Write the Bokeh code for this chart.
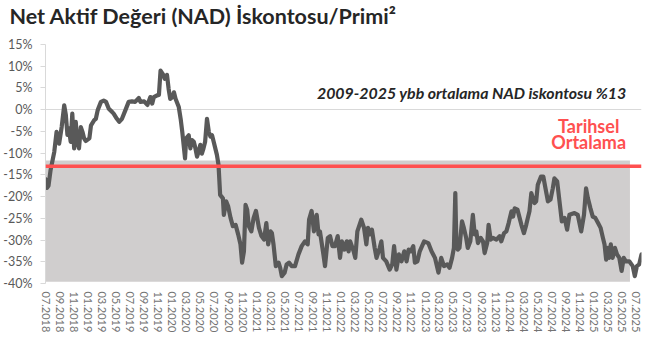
import pandas as pd
from bokeh.plotting import figure
from bokeh.models import Range1d, FixedTicker, Span, Label, ColumnDataSource
from bokeh.embed import file_html
from bokeh.resources import INLINE

# ---------------- data ----------------
dates = [
    "2018-07-01","2018-07-07","2018-07-14","2018-07-23","2018-08-08","2018-08-18","2018-08-29","2018-09-09",
    "2018-09-20","2018-09-27","2018-10-04","2018-10-10","2018-10-18","2018-10-25","2018-11-02","2018-11-09",
    "2018-11-16","2018-11-23","2018-12-01","2018-12-08","2018-12-15","2018-12-22","2019-01-07","2019-01-14",
    "2019-01-28","2019-02-04","2019-02-12","2019-02-26","2019-03-10","2019-03-20","2019-04-01","2019-04-15",
    "2019-04-22","2019-05-06","2019-05-16","2019-05-28","2019-06-12","2019-06-26","2019-07-10","2019-07-24",
    "2019-08-09","2019-08-16","2019-09-01","2019-09-15","2019-09-28","2019-10-06","2019-10-13","2019-10-27",
    "2019-11-04","2019-11-11","2019-11-21","2019-11-29","2019-12-09","2019-12-16","2019-12-23","2020-01-01",
    "2020-01-08","2020-01-15","2020-01-29","2020-02-06","2020-02-13","2020-02-25","2020-03-01","2020-03-12",
    "2020-03-19","2020-03-26","2020-04-03","2020-04-10","2020-04-17","2020-04-24","2020-05-01","2020-05-08",
    "2020-05-15","2020-05-22","2020-05-30","2020-06-07","2020-06-14","2020-06-21","2020-06-28","2020-07-12",
    "2020-07-19","2020-07-26","2020-08-07","2020-08-11","2020-08-21","2020-08-30","2020-09-09","2020-09-19",
    "2020-10-01","2020-10-12","2020-10-22","2020-10-29","2020-11-06","2020-11-13","2020-11-20","2020-11-27",
    "2020-12-08","2020-12-18","2020-12-28","2021-01-10","2021-01-21","2021-02-01","2021-02-11","2021-02-19",
    "2021-03-01","2021-03-07","2021-03-14","2021-03-24","2021-04-05","2021-04-12","2021-04-19","2021-05-01",
    "2021-05-10","2021-05-20","2021-06-01","2021-06-15","2021-06-30","2021-07-14","2021-07-28","2021-08-09",
    "2021-08-15","2021-08-26","2021-09-05","2021-09-10","2021-09-17","2021-09-25","2021-10-01","2021-10-16",
    "2021-10-23","2021-11-04","2021-11-14","2021-11-24","2021-12-05","2021-12-17","2021-12-27","2022-01-04",
    "2022-01-15","2022-01-25","2022-02-02","2022-02-09","2022-02-24","2022-03-03","2022-03-12","2022-03-29",
    "2022-04-10","2022-04-20","2022-04-27","2022-05-04","2022-05-14","2022-05-26","2022-06-03","2022-06-17",
    "2022-06-24","2022-07-01","2022-07-15","2022-07-30","2022-08-10","2022-08-18","2022-08-28","2022-09-08",
    "2022-09-19","2022-10-01","2022-10-11","2022-10-20","2022-10-29","2022-11-09","2022-11-16","2022-11-27",
    "2022-12-07","2022-12-26","2023-01-13","2023-01-27","2023-02-11","2023-02-26","2023-03-10","2023-03-22",
    "2023-04-05","2023-04-15","2023-04-26","2023-05-04","2023-05-10","2023-05-14","2023-05-21","2023-05-28",
    "2023-06-08","2023-06-16","2023-06-26","2023-07-03","2023-07-14","2023-07-25","2023-08-02","2023-08-09",
    "2023-08-16","2023-08-28","2023-09-07","2023-09-14","2023-09-25","2023-10-01","2023-10-10","2023-10-20",
    "2023-11-04","2023-11-18","2023-11-25","2023-12-07","2023-12-17","2023-12-27","2024-01-08","2024-01-15",
    "2024-01-22","2024-02-03","2024-02-09","2024-02-20","2024-03-02","2024-03-12","2024-03-19","2024-03-26",
    "2024-04-03","2024-04-10","2024-04-17","2024-04-24","2024-05-01","2024-05-15","2024-05-25","2024-06-02",
    "2024-06-14","2024-06-25","2024-07-05","2024-07-12","2024-07-24","2024-08-03","2024-08-13","2024-08-25",
    "2024-09-05","2024-09-15","2024-10-07","2024-10-21","2024-11-05","2024-11-17","2024-11-26","2024-12-04",
    "2024-12-15","2024-12-25","2025-01-05","2025-01-17","2025-01-28","2025-02-07","2025-02-14","2025-02-21",
    "2025-02-28","2025-03-06","2025-03-13","2025-03-21","2025-03-31","2025-04-09","2025-04-19","2025-04-29",
    "2025-05-08","2025-05-17","2025-06-01","2025-06-16","2025-06-25","2025-07-04","2025-07-14","2025-07-24",
]
discount = [
    -16.0,-18.0,-17.5,-13.9,-9.7,-5.1,-7.8,-4.0,
    1.0,-1.2,-5.8,-4.3,-7.4,-0.9,-8.9,-2.8,
    -7.4,-8.9,-4.0,-5.1,-6.6,-7.2,-6.6,-3.6,
    -2.4,-2.1,-0.1,1.8,2.1,1.8,0.2,-0.5,
    -0.9,-2.1,-2.8,-2.1,-0.1,1.8,1.9,1.8,
    2.7,1.8,1.9,1.1,2.9,1.4,2.9,3.3,
    3.4,9.0,8.2,7.1,8.0,4.8,2.5,2.9,
    4.0,2.5,0.6,-2.1,-5.1,-11.2,-6.6,-5.9,
    -8.9,-7.0,-7.4,-8.9,-10.8,-9.7,-8.1,-10.1,
    -8.9,-7.4,-2.1,-5.1,-6.2,-5.9,-7.4,-10.4,
    -12.7,-19.6,-20.4,-24.2,-21.1,-22.3,-24.9,-26.8,
    -26.5,-28.7,-31.0,-35.2,-32.6,-21.9,-23.0,-26.8,
    -28.0,-24.9,-23.3,-27.2,-29.1,-29.9,-26.1,-31.0,
    -28.0,-28.4,-31.0,-36.0,-35.2,-36.4,-38.3,-37.5,
    -35.6,-35.2,-36.0,-36.0,-33.3,-31.4,-30.3,-31.0,
    -25.3,-23.3,-28.0,-25.7,-24.2,-28.7,-28.0,-33.3,
    -36.0,-29.5,-29.1,-31.4,-31.4,-29.1,-34.1,-30.3,
    -32.2,-30.3,-32.6,-30.3,-32.6,-34.1,-28.0,-25.3,
    -27.2,-31.0,-27.2,-28.7,-27.6,-31.8,-34.1,-31.8,
    -30.3,-34.1,-34.9,-36.8,-35.6,-31.4,-36.8,-33.3,
    -34.9,-32.6,-34.9,-32.2,-32.6,-31.4,-35.2,-34.9,
    -32.6,-30.3,-30.7,-32.6,-34.1,-37.5,-34.1,-36.0,
    -35.6,-36.4,-34.1,-31.8,-19.2,-29.5,-32.2,-31.8,
    -25.7,-27.2,-29.5,-31.8,-30.3,-24.2,-28.7,-28.0,
    -30.7,-29.5,-30.3,-33.0,-30.7,-26.5,-29.9,-29.5,
    -29.9,-29.1,-30.3,-28.4,-28.0,-26.1,-23.4,-24.6,
    -22.7,-23.0,-24.2,-26.5,-28.4,-26.5,-24.9,-23.4,
    -19.2,-20.4,-21.5,-21.1,-17.3,-15.4,-15.4,-17.7,
    -21.1,-20.7,-18.1,-15.8,-16.5,-21.1,-25.7,-24.9,
    -27.6,-24.2,-23.8,-24.2,-28.0,-24.2,-18.1,-20.4,
    -22.7,-24.6,-24.9,-26.1,-27.2,-29.5,-31.0,-34.5,
    -31.8,-34.1,-31.0,-34.1,-31.8,-33.3,-34.1,-37.1,
    -34.1,-34.9,-34.9,-36.0,-38.3,-36.0,-35.6,-33.3,
]

x_tick_labels = [
    "07.2018","09.2018","11.2018","01.2019","03.2019","05.2019","07.2019","09.2019","11.2019",
    "01.2020","03.2020","05.2020","07.2020","09.2020","11.2020","01.2021","03.2021","05.2021",
    "07.2021","09.2021","11.2021","01.2022","03.2022","05.2022","07.2022","09.2022","11.2022",
    "01.2023","03.2023","05.2023","07.2023","09.2023","11.2023","01.2024","03.2024","05.2024",
    "07.2024","09.2024","11.2024","01.2025","03.2025","05.2025","07.2025",
]
y_ticks = [15, 10, 5, 0, -5, -10, -15, -20, -25, -30, -35, -40]
y_tick_labels = ["15%", "10%", "5%", "0%", "-5%", "-10%", "-15%", "-20%", "-25%", "-30%", "-35%", "-40%"]

historical_average = -13
shade_dates = ["2018-07-01", "2025-06-04"]
shade_low = [-39.6, -39.6]
shade_high = [-11.7, -11.7]

title_text = "Net Aktif Değeri (NAD) İskontosu/Primi²"
note_text = "2009-2025 ybb ortalama NAD iskontosu %13"
avg_label_lines = ["Tarihsel", "Ortalama"]

# ---------------- figure ----------------
W, H = 647, 341
FL, FR, FT, FB = 43, 641, 44, 283   # frame edges in pixels

x_start = pd.Timestamp(dates[0])
x_end = pd.Timestamp(dates[-1])

def ms(ts):
    return pd.Timestamp(ts).value / 1e6

def px_to_x(px):
    return ms(x_start) + (px - FL) / (FR - FL) * (ms(x_end) - ms(x_start))

def py_to_y(py):
    return 15 - (py - FT) / (FB - FT) * 55

p = figure(width=W, height=H, output_backend="svg", toolbar_location=None,
           x_axis_type="datetime",
           x_range=Range1d(ms(x_start), ms(x_end)), y_range=Range1d(-40, 15),
           min_border_left=FL, min_border_right=W - FR, min_border_top=FT, min_border_bottom=H - FB)
p.outline_line_color = None
p.background_fill_color = "white"
p.border_fill_color = "white"

# title
p.title.text = title_text
p.title.align = "left"
p.title.offset = -36
p.title.text_font = "Lato"
p.title.text_font_style = "bold"
p.title.text_font_size = "21.5px"
p.title.text_color = "#262626"
p.title.standoff = 0
p.title.vertical_align = "bottom"
p.title.padding = dict(left=0, right=0, top=0, bottom=16)

# grey band
shade = ColumnDataSource(dict(x=[ms(d) for d in shade_dates], lo=shade_low, hi=shade_high))
p.varea(x="x", y1="lo", y2="hi", source=shade, fill_color="#D0CECE")

# main series
src = ColumnDataSource(dict(x=[ms(d) for d in dates], y=discount))
p.line("x", "y", source=src, line_color="#595959", line_width=4.2, line_join="round", line_cap="round")

# historical average line
p.add_layout(Span(location=historical_average, dimension="width", line_color="#FF5050", line_width=3.5))

# axes
p.xgrid.visible = False
p.ygrid.ticker = FixedTicker(ticks=[0])
p.ygrid.grid_line_color = "#D9D9D9"
p.ygrid.grid_line_width = 1

tick_ms = [ms(pd.Timestamp(year=int(l[3:]), month=int(l[:2]), day=1)) for l in x_tick_labels]
p.xaxis.ticker = FixedTicker(ticks=tick_ms)
p.xaxis.major_label_overrides = {t: l for t, l in zip(tick_ms, x_tick_labels)}
p.xaxis.major_label_orientation = "vertical"
p.xaxis.axis_line_color = None
p.xaxis.major_tick_line_color = None
p.xaxis.minor_tick_line_color = None
p.xaxis.major_tick_out = 0
p.xaxis.major_tick_in = 0
p.xaxis.major_label_standoff = 8
p.xaxis.major_label_text_font = "Lato"
p.xaxis.major_label_text_font_size = "11px"
p.xaxis.major_label_text_color = "#737373"

p.yaxis.ticker = FixedTicker(ticks=y_ticks)
p.yaxis.major_label_overrides = {t: l for t, l in zip(y_ticks, y_tick_labels)}
p.yaxis.axis_line_color = "#D9D9D9"
p.yaxis.major_tick_line_color = "#D9D9D9"
p.yaxis.minor_tick_line_color = None
p.yaxis.major_tick_out = 5
p.yaxis.major_tick_in = 0
p.yaxis.major_label_standoff = 8
p.yaxis.major_label_text_font = "Lato"
p.yaxis.major_label_text_font_size = "12.5px"
p.yaxis.major_label_text_color = "#595959"

# texts
p.add_layout(Label(x=px_to_x(626), y=py_to_y(92), text=note_text, text_font="Lato",
                   text_font_style="bold italic", text_font_size="15.9px", text_color="#262626",
                   text_baseline="middle", text_align="right"))
for i, line in enumerate(avg_label_lines):
    p.add_layout(Label(x=px_to_x(588), y=py_to_y(125 + 16.7 * i), text=line, text_font="Lato",
                       text_font_style="bold", text_font_size="18px", text_color="#FF5050",
                       text_baseline="middle", text_align="center"))

open("out.html", "w").write(file_html(p, INLINE))
